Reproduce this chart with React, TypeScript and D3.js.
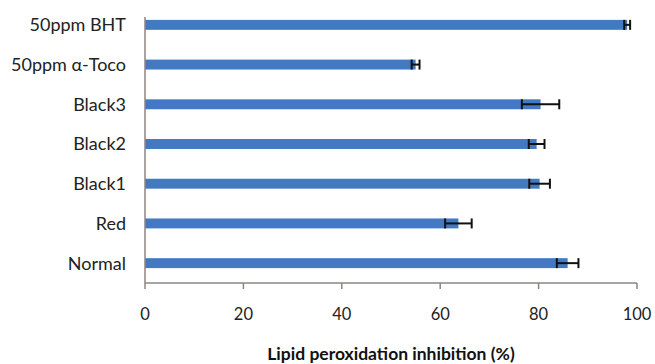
import { useEffect } from 'react';
import * as d3 from 'd3';

// values
const categories = ['50ppm BHT', '50ppm \u03b1-Toco', 'Black3', 'Black2', 'Black1', 'Red', 'Normal'];
const inhibition = [98, 55, 80.4, 79.6, 80.2, 63.7, 85.9];
const errors = [0.6, 0.8, 3.8, 1.6, 2.1, 2.7, 2.2];
const xTicks = [0, 20, 40, 60, 80, 100];

const App = () => {
  useEffect(() => {
    document.body.style.margin = '0';
  }, []);

  const width = 655;
  const height = 364;
  const margin = { top: 5, right: 18, bottom: 81, left: 145 };
  const font = 'Lato, "Open Sans", sans-serif';

  const x = d3
    .scaleLinear()
    .domain([0, 100])
    .range([margin.left, width - margin.right]);

  const y = d3
    .scaleBand()
    .domain(categories)
    .range([margin.top, height - margin.bottom])
    .paddingInner(0.75)
    .paddingOuter(0.375);

  const barColor = '#4279c2';
  const axisColor = '#8c8582';
  const baseY = height - margin.bottom;

  return (
    <svg width={width} height={height} style={{ display: 'block', background: '#fff' }}>
      {/* bars */}
      {categories.map((c, i) => (
        <rect
          key={c}
          x={x(0)}
          y={y(c)}
          width={x(inhibition[i]) - x(0)}
          height={y.bandwidth()}
          fill={barColor}
        />
      ))}

      {/* error bars */}
      {categories.map((c, i) => {
        const cy = y(c)! + y.bandwidth() / 2;
        const x1 = x(inhibition[i] - errors[i]);
        const x2 = x(inhibition[i] + errors[i]);
        return (
          <g key={'e' + c} stroke="#111" strokeWidth={2}>
            <line x1={x1} x2={x2} y1={cy} y2={cy} />
            <line x1={x1} x2={x1} y1={cy - 5} y2={cy + 5} />
            <line x1={x2} x2={x2} y1={cy - 5} y2={cy + 5} />
          </g>
        );
      })}

      {/* y axis */}
      <line x1={margin.left} x2={margin.left} y1={17} y2={baseY} stroke={axisColor} strokeWidth={1.5} />
      {categories.map((c) => (
        <text
          key={'l' + c}
          x={margin.left - 19}
          y={y(c)! + y.bandwidth() / 2}
          dy="0.36em"
          textAnchor="end"
          fontFamily={font}
          fontSize={18}
          fill="#222"
        >
          {c}
        </text>
      ))}

      {/* x axis */}
      <line x1={x(0)} x2={x(100)} y1={baseY} y2={baseY} stroke={axisColor} strokeWidth={1.5} />
      {xTicks.map((t) => (
        <g key={'t' + t}>
          <line x1={x(t)} x2={x(t)} y1={baseY} y2={baseY + 6} stroke={axisColor} strokeWidth={1.5} />
          <text x={x(t)} y={320} textAnchor="middle" fontFamily={font} fontSize={16.5} fill="#222">
            {t}
          </text>
        </g>
      ))}

      <text
        x={(x(0) + x(100)) / 2}
        y={360}
        textAnchor="middle"
        fontFamily={font}
        fontSize={17.5}
        fontWeight="bold"
        fill="#111"
      >
        Lipid peroxidation inhibition (%)
      </text>
    </svg>
  );
};

export default App;
